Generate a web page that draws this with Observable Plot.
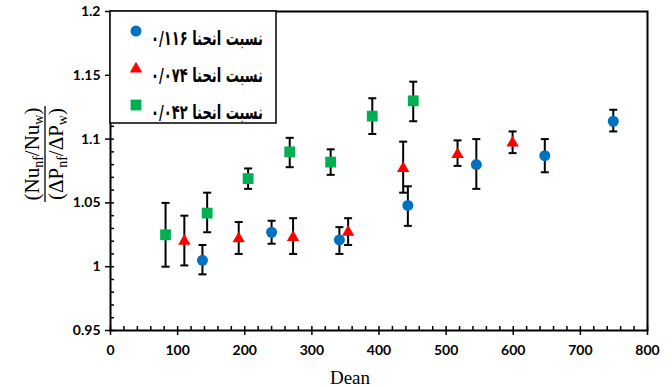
<!DOCTYPE html>
<html>
<head>
<meta charset="utf-8">
<script src="https://cdn.jsdelivr.net/npm/d3@7"></script>
<script src="https://cdn.jsdelivr.net/npm/@observablehq/plot@0.6"></script>
<style>
  html, body { margin: 0; padding: 0; background: #fff; }
  #chart { width: 672px; height: 387px; }
</style>
</head>
<body>
<div id="chart"></div>
<script>
// ---- data ----
const seriesNames = ["نسبت انحنا ۰/۱۱۶", "نسبت انحنا ۰/۰۷۴", "نسبت انحنا ۰/۰۴۲"];
const seriesColors = ["#0070C0", "#FF0000", "#00B050"];

const deanA = [137, 240, 341, 443, 545, 647, 749];
const valA  = [1.005, 1.027, 1.021, 1.048, 1.080, 1.087, 1.114];
const lowA  = [0.994, 1.018, 1.010, 1.032, 1.061, 1.074, 1.106];
const highA = [1.017, 1.036, 1.031, 1.063, 1.100, 1.100, 1.123];

const deanB = [110, 191, 272, 354, 436, 517, 599];
const valB  = [1.020, 1.022, 1.023, 1.027, 1.077, 1.088, 1.097];
const lowB  = [1.001, 1.010, 1.010, 1.017, 1.058, 1.079, 1.089];
const highB = [1.040, 1.035, 1.038, 1.038, 1.098, 1.099, 1.106];

const deanC = [82, 144, 205, 267, 328, 390, 451];
const valC  = [1.025, 1.042, 1.069, 1.090, 1.082, 1.118, 1.130];
const lowC  = [1.000, 1.027, 1.061, 1.078, 1.072, 1.104, 1.114];
const highC = [1.050, 1.058, 1.077, 1.101, 1.092, 1.132, 1.145];

const xTicks = [0, 100, 200, 300, 400, 500, 600, 700, 800];
const yTicks = [0.95, 1, 1.05, 1.1, 1.15, 1.2];
const xLabel = "Dean";

// ---- build tables ----
function rows(dean, val, low, high, s) {
  return dean.map((d, i) => ({dean: d, value: val[i], low: low[i], high: high[i], series: s}));
}
const A = rows(deanA, valA, lowA, highA, 0);
const B = rows(deanB, valB, lowB, highB, 1);
const C = rows(deanC, valC, lowC, highC, 2);
const all = [...A, ...B, ...C];

const xMinor = d3.range(0, 801, 20);
const yMinor = d3.range(95, 121, 1).map(v => v / 100);

const cap = { draw(ctx) { ctx.moveTo(-4, 0); ctx.lineTo(4, 0); } };

const svg = Plot.plot({
  width: 672,
  height: 387,
  marginLeft: 110,
  marginRight: 25,
  marginTop: 11,
  marginBottom: 57,
  x: {domain: [0, 800]},
  y: {domain: [0.95, 1.2]},
  style: {fontFamily: "Lato, 'Open Sans', sans-serif", fontSize: "14px", fontWeight: "bold", color: "black", background: "white"},
  marks: [
    Plot.axisX({ticks: xTicks, tickSize: 5, tickPadding: 10, tickFormat: d => String(d), label: null, strokeWidth: 1.5}),
    Plot.axisX({ticks: xMinor, tickSize: 4, dy: -4, tickFormat: () => "", label: null, strokeWidth: 1.5}),
    Plot.axisY({ticks: yTicks, tickSize: 5, tickPadding: 5, tickFormat: d => String(d), label: null, strokeWidth: 1.5}),
    Plot.axisY({ticks: yMinor, tickSize: 4, dx: 4, tickFormat: () => "", label: null, strokeWidth: 1.5}),
    Plot.ruleX(all, {x: "dean", y1: "low", y2: "high", stroke: "black", strokeWidth: 2}),
    Plot.dot(all, {x: "dean", y: "low", symbol: cap, stroke: "black", strokeWidth: 2, fill: "none"}),
    Plot.dot(all, {x: "dean", y: "high", symbol: cap, stroke: "black", strokeWidth: 2, fill: "none"}),
    Plot.dot(A, {x: "dean", y: "value", symbol: "circle", r: 5.5, fill: seriesColors[0]}),
    Plot.dot(B, {x: "dean", y: "value", symbol: "triangle", r: 4.6, fill: seriesColors[1]}),
    Plot.dot(C, {x: "dean", y: "value", symbol: "square", r: 6.1, fill: seriesColors[2]}),
    Plot.frame({stroke: "black", strokeWidth: 2})
  ]
});
document.getElementById("chart").appendChild(svg);

const s = d3.select(svg);

// x label
s.append("text")
  .attr("x", 350).attr("y", 384)
  .attr("text-anchor", "middle")
  .style("font-family", "'Liberation Serif', 'Times New Roman', serif")
  .style("font-weight", "normal")
  .style("font-size", "19px")
  .text(xLabel);

// y label: fraction (Nu_nf/Nu_w) / (ΔP_nf/ΔP_w)
const yl = s.append("g").attr("transform", "translate(45,154) rotate(-90)")
  .style("font-family", "'Liberation Serif', 'Times New Roman', serif")
  .style("font-weight", "normal")
  .style("font-size", "21px");
function fracPart(y, parts) {
  const t = yl.append("text").attr("x", 0).attr("y", y).attr("text-anchor", "middle");
  let shifted = false;
  parts.forEach(([txt, sub]) => {
    const ts = t.append("tspan").text(txt);
    if (sub && !shifted) { ts.attr("dy", 4).style("font-size", "14px"); shifted = true; }
    else if (sub) { ts.style("font-size", "14px"); }
    else if (shifted) { ts.attr("dy", -4); shifted = false; }
  });
}
fracPart(-6, [["(Nu", false], ["nf", true], ["/Nu", false], ["w", true], [")", false]]);
yl.append("line").attr("x1", -48).attr("x2", 48).attr("y1", 0).attr("y2", 0).attr("stroke", "black").attr("stroke-width", 1.3);
fracPart(18, [["(ΔP", false], ["nf", true], ["/ΔP", false], ["w", true], [")", false]]);

// legend
const lg = s.append("g");
lg.append("rect").attr("x", 110).attr("y", 11).attr("width", 166).attr("height", 112)
  .attr("fill", "white").attr("stroke", "black").attr("stroke-width", 1.5);
const rowsY = [31, 69, 105];
const textY = [45, 82, 119];
const sym = [d3.symbolCircle, d3.symbolTriangle, d3.symbolSquare];
const sz = [Math.PI * 5.5 * 5.5, Math.PI * 4.6 * 4.6, Math.PI * 6.1 * 6.1];
seriesNames.forEach((name, i) => {
  lg.append("path").attr("d", d3.symbol(sym[i], sz[i])())
    .attr("transform", `translate(136,${rowsY[i]})`).attr("fill", seriesColors[i]);
  lg.append("text").attr("x", 151).attr("y", textY[i]).attr("text-anchor", "start")
    .attr("textLength", 112).attr("lengthAdjust", "spacingAndGlyphs")
    .style("font-family", "'DejaVu Sans', sans-serif").style("font-weight", "bold").style("font-size", "20px")
    .text(name);
});
</script>
</body>
</html>
